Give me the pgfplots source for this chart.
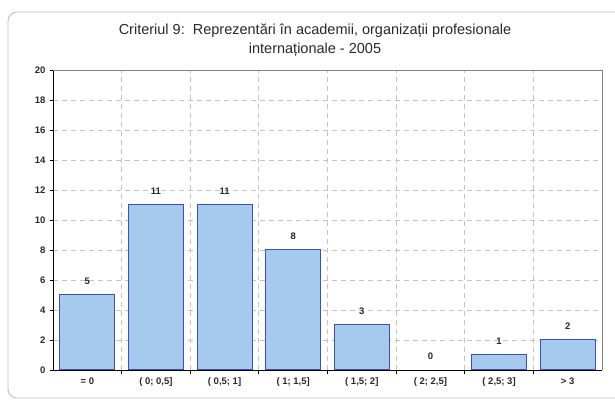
\documentclass[border=0pt]{standalone}
\usepackage{fontspec}
\setmainfont{Liberation Sans}
\usepackage{pgfplots}
\pgfplotsset{compat=1.18}
\definecolor{barfill}{RGB}{166,202,238}
\definecolor{baredge}{RGB}{60,80,180}
\definecolor{gridc}{RGB}{195,195,195}
\definecolor{framec}{RGB}{190,190,190}
\definecolor{labc}{RGB}{40,40,40}
\begin{document}
\begin{tikzpicture}
\path[use as bounding box] (0pt,0pt) rectangle (615pt,401pt);
\draw[framec, line width=0.9pt, rounded corners=9pt] (8pt,3pt) rectangle (640pt,389pt);
\node[align=center, font=\fontsize{14.5}{19}\selectfont, text=labc] at (315pt,361pt)
  {Criteriul 9:\ \ Reprezentări în academii, organizații profesionale\\internaționale - 2005};
\begin{axis}[
  at={(53pt,31pt)}, anchor=south west,
  scale only axis, width=549pt, height=300pt,
  xmin=-0.5, xmax=7.5, ymin=0, ymax=20,
  ytick={0,2,4,6,8,10,12,14,16,18,20},
  xtick={0,1,2,3,4,5,6,7},
  xticklabels={{= 0},{( 0; 0,5]},{( 0,5; 1]},{( 1; 1,5]},{( 1,5; 2]},{( 2; 2,5]},{( 2,5; 3]},{> 3}},
  minor xtick={0.5,1.5,2.5,3.5,4.5,5.5,6.5},
  major x tick style={draw=none},
  minor x tick style={black, line width=0.8pt},
  y tick style={black, line width=0.8pt},
  tick align=outside,
  major tick length=3pt, minor tick length=4pt,
  ymajorgrids, xminorgrids,
  major grid style={gridc, dash pattern=on 5pt off 4pt, line width=0.8pt},
  minor grid style={gridc, dash pattern=on 5pt off 4pt, line width=0.8pt},
  axis x line*=bottom, axis y line*=left,
  axis line style={black, line width=0.8pt},
  /pgf/number format/assume math mode=true,
  ticklabel style={font=\fontsize{9.5}{11}\selectfont\bfseries, text=labc},
  yticklabel style={xshift=-1pt},
  xticklabel style={yshift=-1pt},
  ybar, bar width=55pt, bar shift=0pt,
  nodes near coords,
  nodes near coords style={font=\fontsize{9.5}{11}\selectfont\bfseries, text=labc, yshift=7pt},
  clip=false,
]
\addplot[fill=barfill, draw=baredge, line width=1pt, bar shift=0pt] coordinates {
(0,5) (1,11) (2,11) (3,8) (4,3) (6,1) (7,2)};
\addplot[draw=none, fill=none, bar shift=0pt] coordinates {(5,0)};
\end{axis}
\draw[gray, line width=0.8pt] (53pt,331pt) -- (602pt,331pt) -- (602pt,31pt);
\end{tikzpicture}
\end{document}
